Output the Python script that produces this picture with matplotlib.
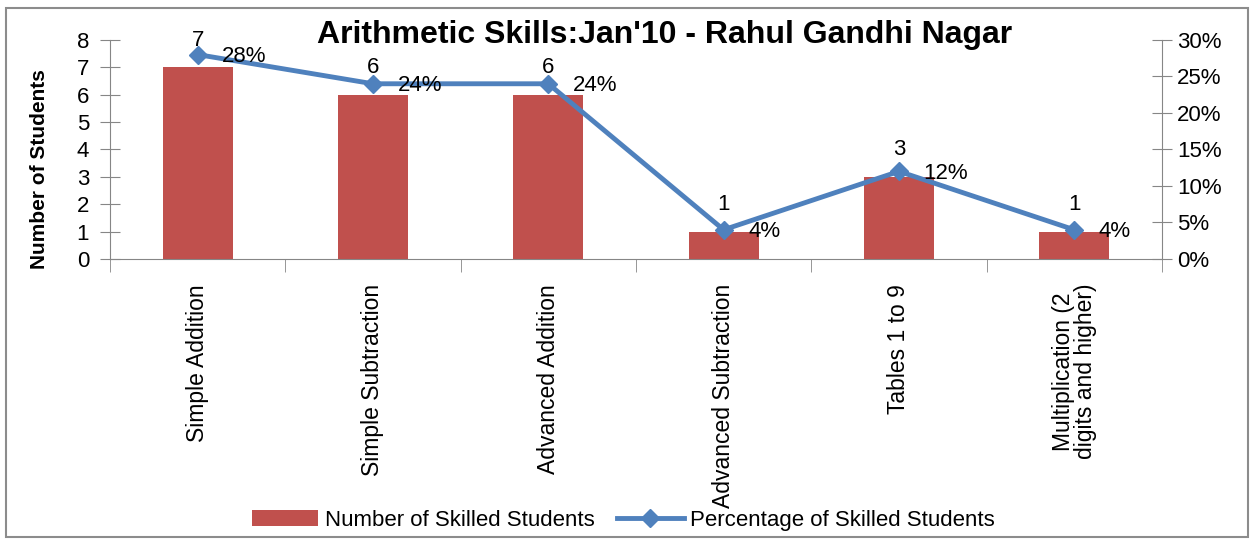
import numpy as np
import matplotlib.pyplot as plt
from matplotlib.patches import Rectangle

plt.rcParams['font.family'] = ['Liberation Sans', 'DejaVu Sans']

categories = ['Simple Addition', 'Simple Subtraction', 'Advanced Addition',
              'Advanced Subtraction', 'Tables 1 to 9',
              'Multiplication (2\ndigits and higher)']
num_students = [7, 6, 6, 1, 3, 1]
pct_students = [28, 24, 24, 4, 12, 4]

bar_color = '#C0504D'
line_color = '#4F81BD'
axis_color = '#868686'

fig = plt.figure(figsize=(12.54, 5.4), dpi=100)
fig.patches.append(Rectangle((0.005, 0.006), 0.99, 0.98, transform=fig.transFigure,
                             fill=False, edgecolor='#8c8c8c', linewidth=1.5))
ax = fig.add_axes([0.0877, 0.5204, 0.8389, 0.4056])
x = np.arange(len(categories))

bars = ax.bar(x, num_students, width=0.4, color=bar_color, zorder=2,
              label='Number of Skilled Students')
ax.set_xlim(-0.5, len(categories) - 0.5)
ax.set_ylim(0, 8)
ax.set_yticks(range(0, 9))
ax.set_ylabel('Number of Students', fontsize=15, fontweight='bold')
ax.yaxis.set_label_coords(-0.058, 0.41)
ax.set_xticks(x)
ax.set_xticklabels(categories, rotation=90, fontsize=16.5, va='top', ha='center',
                   linespacing=0.95)
ax.set_xticks(np.arange(-0.5, len(categories) + 0.5), minor=True)
ax.tick_params(axis='x', which='major', length=0, pad=18)
ax.tick_params(axis='x', which='minor', length=9, direction='out', color=axis_color)
ax.tick_params(axis='y', labelsize=16, length=14, direction='inout', color=axis_color,
               pad=8)
for s in ['top', 'right']:
    ax.spines[s].set_visible(False)
for s in ['left', 'bottom']:
    ax.spines[s].set_color(axis_color)
for xi, v in zip(x, num_students):
    ax.text(xi, v + 0.6, str(v), ha='center', va='bottom', fontsize=16)

ax2 = ax.twinx()
ax2.plot(x, pct_students, color=line_color, linewidth=3.5, marker='D',
         markersize=9, zorder=3, label='Percentage of Skilled Students')
ax2.set_ylim(0, 30)
ax2.set_yticks(range(0, 31, 5))
ax2.set_yticklabels([f'{v}%' for v in range(0, 31, 5)])
ax2.tick_params(axis='y', labelsize=16, length=14, direction='inout', color=axis_color,
                pad=4)
for s in ['top', 'left', 'bottom']:
    ax2.spines[s].set_visible(False)
ax2.spines['right'].set_color(axis_color)
for xi, v in zip(x, pct_students):
    ax2.text(xi + 0.14, v - 0.3, f'{v}%', ha='left', va='center', fontsize=16)

fig.text(0.53, 0.935, "Arithmetic Skills:Jan'10 - Rahul Gandhi Nagar",
         ha='center', va='center', fontsize=23, fontweight='bold')

h1, l1 = ax.get_legend_handles_labels()
h2, l2 = ax2.get_legend_handles_labels()
fig.legend(h1 + h2, l1 + l2, loc='center', bbox_to_anchor=(0.497, 0.037), ncol=2,
           frameon=False, fontsize=16, handlelength=3, columnspacing=1.0,
           handletextpad=0.3)

fig.savefig('out.png', dpi=100)
